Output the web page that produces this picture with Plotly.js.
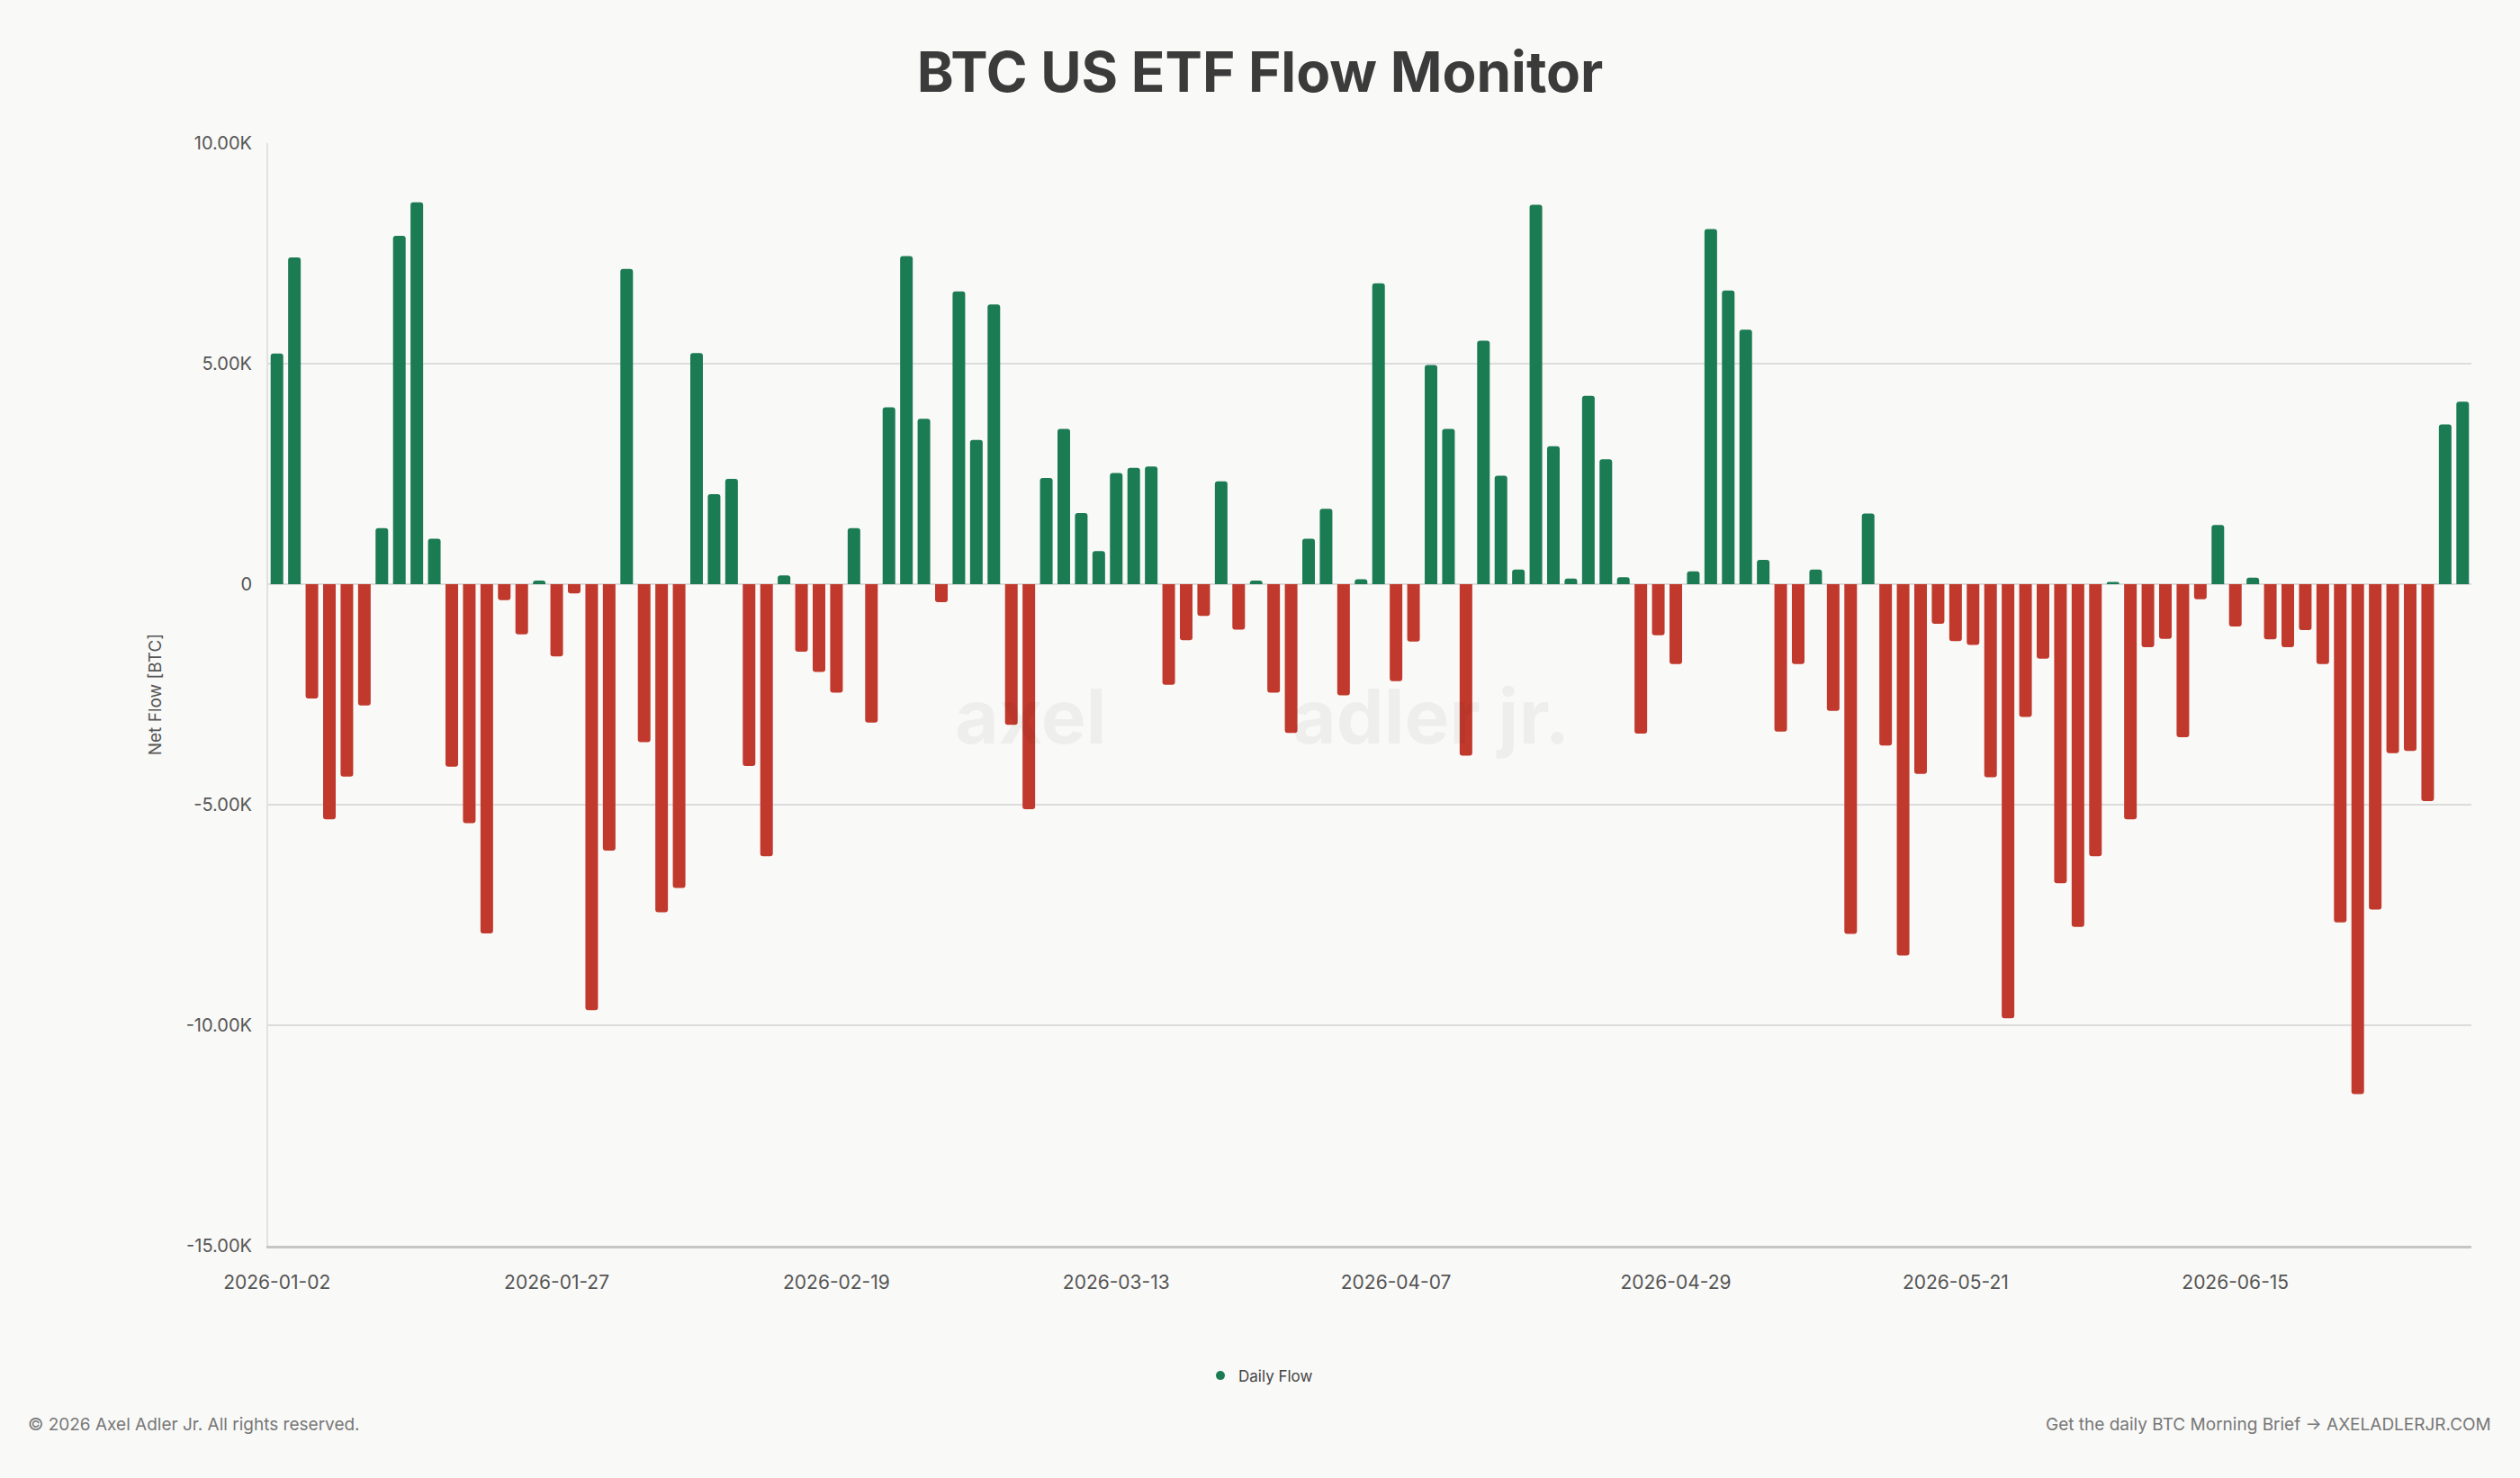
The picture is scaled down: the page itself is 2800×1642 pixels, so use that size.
<!DOCTYPE html>
<html>
<head>
<meta charset="utf-8">
<script src="https://cdn.plot.ly/plotly-3.0.1.min.js"></script>
<style>
html,body{margin:0;padding:0;background:#f9f9f7;}
#chart{width:2800px;height:1642px;}
</style>
</head>
<body>
<div id="chart"></div>
<script>
const dates = [
'2026-01-02','2026-01-05','2026-01-06','2026-01-07','2026-01-08','2026-01-09','2026-01-12','2026-01-13','2026-01-14','2026-01-15',
'2026-01-16','2026-01-20','2026-01-21','2026-01-22','2026-01-23','2026-01-26','2026-01-27','2026-01-28','2026-01-29','2026-01-30',
'2026-02-02','2026-02-03','2026-02-04','2026-02-05','2026-02-06','2026-02-09','2026-02-10','2026-02-11','2026-02-12','2026-02-13',
'2026-02-17','2026-02-18','2026-02-19','2026-02-20','2026-02-23','2026-02-24','2026-02-25','2026-02-26','2026-02-27',
'2026-03-02','2026-03-03','2026-03-04','2026-03-05','2026-03-06','2026-03-09','2026-03-10','2026-03-11','2026-03-12','2026-03-13',
'2026-03-16','2026-03-17','2026-03-18','2026-03-19','2026-03-20','2026-03-23','2026-03-24','2026-03-25','2026-03-26','2026-03-27',
'2026-03-30','2026-03-31',
'2026-04-01','2026-04-02','2026-04-06','2026-04-07','2026-04-08','2026-04-09','2026-04-10','2026-04-13','2026-04-14','2026-04-15',
'2026-04-16','2026-04-17','2026-04-20','2026-04-21','2026-04-22','2026-04-23','2026-04-24','2026-04-27','2026-04-28','2026-04-29','2026-04-30',
'2026-05-01','2026-05-04','2026-05-05','2026-05-06','2026-05-07','2026-05-08','2026-05-11','2026-05-12','2026-05-13','2026-05-14',
'2026-05-15','2026-05-18','2026-05-19','2026-05-20','2026-05-21','2026-05-22','2026-05-26','2026-05-27','2026-05-28','2026-05-29',
'2026-06-01','2026-06-02','2026-06-03','2026-06-04','2026-06-05','2026-06-08','2026-06-09','2026-06-10','2026-06-11','2026-06-12',
'2026-06-15','2026-06-16','2026-06-17','2026-06-18','2026-06-22','2026-06-23','2026-06-24','2026-06-25','2026-06-26','2026-06-29',
'2026-06-30','2026-07-01','2026-07-02','2026-07-06'
];

const dailyFlow = [
5230, 7410, -2590, -5330, -4360, -2750, 1270, 7900, 8660, 1030,
-4140, -5420, -7920, -360, -1140, 80, -1640, -210, -9660, -6040,
7150, -3580, -7440, -6890, 5240, 2040, 2390, -4120, -6170, 200,
-1530, -1990, -2460, 1270, -3140, 4010, 7440, 3750, -410, 6640,
3270, 6340, -3190, -5100, 2410, 3520, 1610, 750, 2520, 2640,
2670, -2280, -1270, -720, 2330, -1030, 80, -2460, -3370, 1030,
1710, -2520, 110, 6820, -2200, -1300, 4970, 3520, -3890, 5520,
2460, 330, 8600, 3130, 130, 4270, 2830, 160, -3390, -1160,
-1810, 290, 8050, 6660, 5770, 550, -3340, -1810, 330, -2870,
-7930, 1600, -3660, -8420, -4300, -900, -1290, -1380, -4380, -9840,
-3010, -1690, -6780, -7770, -6170, 50, -5330, -1430, -1240, -3470,
-340, 1340, -960, 150, -1250, -1430, -1040, -1810, -7670, -11560,
-7380, -3830, -3780, -4920, 3620, 4140
];

const xTickDates = ['2026-01-02','2026-01-27','2026-02-19','2026-03-13','2026-04-07','2026-04-29','2026-05-21','2026-06-15'];
const yTickValues = [-15000, -10000, -5000, 0, 5000, 10000];
const yTickLabels = ['-15.00K', '-10.00K', '-5.00K', '0', '5.00K', '10.00K'];

const GREEN = '#1b7b53';
const RED = '#c1392c';
const barColors = dailyFlow.map(v => v >= 0 ? GREEN : RED);

const traces = [
  {
    type: 'bar',
    x: dates,
    y: dailyFlow,
    marker: {color: barColors, cornerradius: 3, line: {width: 0}},
    width: 0.72,
    name: 'Daily Flow',
    showlegend: false,
    hovertemplate: '%{x}<br>%{y:,.0f} BTC<extra></extra>'
  },
  {
    type: 'scatter',
    mode: 'markers',
    x: [null],
    y: [null],
    name: 'Daily Flow',
    marker: {color: GREEN, size: 10, symbol: 'circle'},
    showlegend: true,
    hoverinfo: 'skip'
  }
];

const FONT = 'Inter, "Noto Sans", "DejaVu Sans", sans-serif';

const layout = {
  width: 2800,
  height: 1642,
  paper_bgcolor: '#f9f9f7',
  plot_bgcolor: '#f9f9f7',
  font: {family: FONT, color: '#555555', size: 20},
  margin: {l: 298, r: 54, t: 159, b: 258, pad: 0},
  title: {
    text: '<b>BTC US ETF Flow Monitor</b>',
    font: {family: FONT, size: 62, color: '#3b3b3b'},
    x: 0.5, xanchor: 'center', xref: 'container',
    y: 1 - 80/1642, yanchor: 'middle', yref: 'container'
  },
  xaxis: {
    type: 'category',
    categoryorder: 'array',
    categoryarray: dates,
    tickmode: 'array',
    tickvals: xTickDates,
    ticktext: xTickDates,
    tickfont: {family: FONT, size: 21, color: '#555555'},
    ticks: '',
    ticklen: 0,
    ticklabelstandoff: 20,
    showgrid: false,
    showline: true,
    linecolor: '#c6c6c6',
    linewidth: 3,
    zeroline: false,
    range: [-0.5, dates.length - 0.5],
    automargin: false
  },
  yaxis: {
    range: [-15000, 10000],
    tickmode: 'array',
    tickvals: yTickValues,
    ticktext: yTickLabels,
    tickfont: {family: FONT, size: 20, color: '#555555'},
    ticks: '',
    ticklabelstandoff: 12,
    showgrid: true,
    gridcolor: '#dcdcdc',
    gridwidth: 1.5,
    zeroline: true,
    zerolinecolor: '#dcdcdc',
    zerolinewidth: 1.5,
    showline: true,
    linecolor: '#e2e2e2',
    linewidth: 2,
    title: {text: 'Net Flow [BTC]', font: {family: FONT, size: 19, color: '#555555'}, standoff: 22},
    automargin: false
  },
  showlegend: true,
  legend: {
    orientation: 'h',
    x: (1400 - 298) / 2448, xanchor: 'center',
    y: -0.118, yanchor: 'middle',
    font: {family: FONT, size: 17, color: '#444444'},
    bgcolor: 'rgba(0,0,0,0)'
  },
  annotations: [
    {
      text: '© 2026 Axel Adler Jr. All rights reserved.',
      xref: 'paper', yref: 'paper',
      x: (29 - 298) / 2448, y: (1384 - 1582) / 1225,
      xanchor: 'left', yanchor: 'middle',
      showarrow: false,
      font: {family: FONT, size: 19, color: '#777777'}
    },
    {
      text: 'Get the daily BTC Morning Brief → AXELADLERJR.COM',
      xref: 'paper', yref: 'paper',
      x: (2770 - 298) / 2448, y: (1384 - 1582) / 1225,
      xanchor: 'right', yanchor: 'middle',
      showarrow: false,
      font: {family: FONT, size: 19, color: '#777777'}
    },
    {
      text: '<b>axel</b>',
      xref: 'paper', yref: 'paper',
      x: (1145 - 298) / 2448, y: (1384 - 795) / 1225,
      xanchor: 'center', yanchor: 'middle',
      showarrow: false,
      font: {family: FONT, size: 84, color: 'rgba(0,0,0,0.045)'}
    },
    {
      text: '<b>adler jr.</b>',
      xref: 'paper', yref: 'paper',
      x: (1590 - 298) / 2448, y: (1384 - 795) / 1225,
      xanchor: 'center', yanchor: 'middle',
      showarrow: false,
      font: {family: FONT, size: 84, color: 'rgba(0,0,0,0.045)'}
    }
  ]
};

Plotly.newPlot('chart', traces, layout, {displayModeBar: false, staticPlot: true});
</script>
</body>
</html>
